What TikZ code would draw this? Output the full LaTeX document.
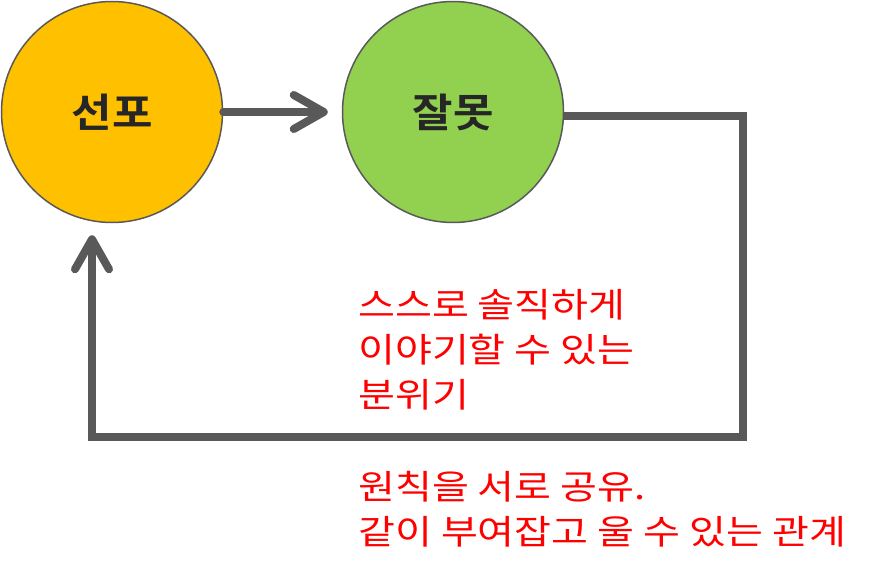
\documentclass[tikz,border=0pt]{standalone}
\usepackage{fontspec}
\newfontfamily\kr[FakeStretch=1.18]{Noto Sans CJK KR}
\newfontfamily\krbold[FakeStretch=1.1]{Noto Sans CJK KR Bold}
\usetikzlibrary{arrows.meta}
\begin{document}
\begin{tikzpicture}[x=1bp,y=-1bp,line cap=round]
			\definecolor{amber}{HTML}{FFC000}
			\definecolor{yellowgreen}{HTML}{92D050}
			\definecolor{darkgray}{HTML}{595959}
			\definecolor{inkgray}{HTML}{262626}
			\useasboundingbox (0,0) rectangle (882,577);
			\tikzset{
				bubble/.style={circle,draw=darkgray,line width=1.5bp,minimum size=221bp,inner sep=0pt,
					text=inkgray,font=\krbold\fontsize{40bp}{48bp}\selectfont},
				flowarrow/.style={draw=darkgray,line width=8bp,
					-{Straight Barb[round,length=30bp,width=34bp]}},
				note/.style={text=red,align=left,inner sep=0pt,anchor=west,
					font=\kr\fontsize{34bp}{45bp}\selectfont}
			}
			
			% hai vong tron
			\node[bubble,fill=amber] (sunpo) at (112,112) {선포};
			\node[bubble,fill=yellowgreen] (jalmot) at (453,112) {잘못};
			
			\draw[flowarrow] (sunpo.east) -- ([xshift=-14bp]jalmot.west);
			
			% duong quay lai
			\coordinate (corner) at (743,437);
			\draw[flowarrow,line join=miter,line cap=butt] ([yshift=-4bp]jalmot.east) -| (corner)
				-| ([xshift=-20bp,yshift=-12bp]sunpo.south);
			
			\node[note] (mood) at (358,350) {스스로 솔직하게\\이야기할 수 있는\\분위기};
			\node[note] (share) at (358,509) {원칙을 서로 공유.\\같이 부여잡고 울 수 있는 관계};
		\end{tikzpicture}
\end{document}
